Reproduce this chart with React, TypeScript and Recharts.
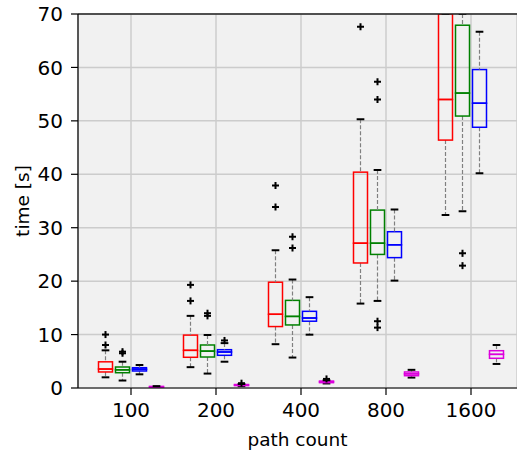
import React from 'react';
import {
  ComposedChart,
  Bar,
  Scatter,
  XAxis,
  YAxis,
  CartesianGrid,
  ReferenceLine,
} from 'recharts';

const categories = ['100', '200', '400', '800', '1600'];
const yTicks = [0, 10, 20, 30, 40, 50, 60, 70];

// per category: lower whisker, q1, median, q3, upper whisker, outliers
const redLow = [2.0, 3.9, 8.2, 15.8, 32.4];
const redQ1 = [3.0, 5.75, 11.5, 23.4, 46.4];
const redMed = [3.55, 7.05, 13.8, 27.1, 54.0];
const redQ3 = [4.9, 9.9, 19.8, 40.4, 76.0];
const redHigh = [7.05, 13.5, 25.8, 50.3, 88.0];
const redOut = [[8.05, 10.0], [16.3, 19.3], [33.9, 37.9], [67.6], []];

const greenLow = [1.4, 2.7, 5.7, 16.3, 33.1];
const greenQ1 = [2.86, 5.8, 11.8, 25.0, 50.9];
const greenMed = [3.4, 6.9, 13.4, 27.1, 55.2];
const greenQ3 = [3.93, 8.05, 16.4, 33.3, 67.9];
const greenHigh = [4.92, 9.92, 20.3, 40.8, 78.0];
const greenOut = [[6.5, 6.8], [13.5, 14.0], [26.2, 28.3], [11.3, 12.5, 54.0, 57.3], [22.9, 25.2]];

const blueLow = [2.56, 4.92, 9.98, 20.1, 40.2];
const blueQ1 = [3.18, 6.12, 12.5, 24.4, 48.8];
const blueMed = [3.5, 6.74, 13.1, 26.8, 53.3];
const blueQ3 = [3.8, 7.17, 14.35, 29.25, 59.6];
const blueHigh = [4.3, 8.4, 17.0, 33.4, 66.7];
const blueOut = [[], [8.9], [], [], []];

const magentaLow = [0.1, 0.35, 0.85, 1.95, 4.5];
const magentaQ1 = [0.15, 0.45, 1.0, 2.3, 5.56];
const magentaMed = [0.2, 0.55, 1.15, 2.65, 6.3];
const magentaQ3 = [0.3, 0.65, 1.3, 3.0, 6.98];
const magentaHigh = [0.35, 0.75, 1.45, 3.4, 8.05];
const magentaOut = [[], [0.9], [1.7], [], []];

const series = [
  { key: 'r', color: '#ff0000', low: redLow, q1: redQ1, med: redMed, q3: redQ3, high: redHigh, out: redOut },
  { key: 'g', color: '#008000', low: greenLow, q1: greenQ1, med: greenMed, q3: greenQ3, high: greenHigh, out: greenOut },
  { key: 'b', color: '#0000ff', low: blueLow, q1: blueQ1, med: blueMed, q3: blueQ3, high: blueHigh, out: blueOut },
  { key: 'm', color: '#dd00dd', low: magentaLow, q1: magentaQ1, med: magentaMed, q3: magentaQ3, high: magentaHigh, out: magentaOut },
];

const WIDTH = 517;
const HEIGHT = 452;
const Y_AXIS_W = 78;
const PAD_L = 10.5;
const PAD_R = 3.5;
const BAR = 14;
const GAP = 3;
const band = (WIDTH - Y_AXIS_W - PAD_L - PAD_R) / categories.length;

const rows = categories.map((cat, i) => {
  const row: any = { cat };
  series.forEach((s) => {
    row[s.key + 'Base'] = s.low[i];
    row[s.key + 'Lw'] = s.q1[i] - s.low[i];
    row[s.key + 'B1'] = s.med[i] - s.q1[i];
    row[s.key + 'B2'] = s.q3[i] - s.med[i];
    row[s.key + 'Uw'] = s.high[i] - s.q3[i];
  });
  return row;
});

const outliers = series.flatMap((s, si) =>
  s.out.flatMap((vals, i) =>
    vals.map((v) => ({ x: i + ((BAR + GAP) * (si - 1.5)) / band, y: v }))
  )
);

const font = 'DejaVu Sans';

const Empty = () => <g />;

const LowerWhisker = (props: any) => {
  const { x, y, width, height } = props;
  const cx = x + width / 2;
  const cap = width * 0.55;
  return (
    <g>
      <line x1={cx} x2={cx} y1={y} y2={y + height} stroke="#808080" strokeWidth={1.2} strokeDasharray="4 2" />
      <line x1={cx - cap / 2} x2={cx + cap / 2} y1={y + height} y2={y + height} stroke="#000" strokeWidth={2} />
    </g>
  );
};

const UpperWhisker = (props: any) => {
  const { x, y, width, height } = props;
  const cx = x + width / 2;
  const cap = width * 0.55;
  return (
    <g>
      <line x1={cx} x2={cx} y1={y} y2={y + height} stroke="#808080" strokeWidth={1.2} strokeDasharray="4 2" />
      <line x1={cx - cap / 2} x2={cx + cap / 2} y1={y} y2={y} stroke="#000" strokeWidth={2} />
    </g>
  );
};

const boxShape = (color: string) => (props: any) => {
  const { x, y, width, height } = props;
  return <rect x={x} y={y} width={width} height={height} fill="none" stroke={color} strokeWidth={1.5} />;
};

const Plus = (props: any) => {
  const { cx, cy } = props;
  const r = 3.5;
  return (
    <g>
      <line x1={cx - r} x2={cx + r} y1={cy} y2={cy} stroke="#000" strokeWidth={2} />
      <line x1={cx} x2={cx} y1={cy - r} y2={cy + r} stroke="#000" strokeWidth={2} />
    </g>
  );
};

export default function App() {
  return (
    <div style={{ position: 'absolute', left: 0, top: 0, width: WIDTH, height: HEIGHT, fontFamily: font, background: '#fff' }}>
      <ComposedChart
        width={WIDTH}
        height={HEIGHT}
        data={rows}
        margin={{ top: 14, right: 0, bottom: 0, left: 0 }}
        barSize={BAR}
        barGap={GAP}
      >
        <CartesianGrid stroke="#cccccc" strokeWidth={1.5} fill="#f1f1f1" />
        <XAxis
          dataKey="cat"
          height={HEIGHT - 14 - 374}
          padding={{ left: PAD_L, right: PAD_R }}
          tick={{ fontSize: 20, fill: '#000' }}
          tickSize={7}
          tickMargin={8}
          axisLine={{ stroke: '#000', strokeWidth: 1.2 }}
          tickLine={{ stroke: '#000', strokeWidth: 1.2 }}
          label={{ value: 'path count', position: 'insideBottom', offset: 6, style: { fontSize: 18.5, fill: '#000' } }}
        />
        <XAxis
          xAxisId="num"
          type="number"
          dataKey="x"
          domain={[-0.5, categories.length - 0.5]}
          padding={{ left: PAD_L, right: PAD_R }}
          hide
        />
        <YAxis
          width={Y_AXIS_W}
          domain={[0, 70]}
          ticks={yTicks}
          allowDataOverflow
          tick={{ fontSize: 20, fill: '#000' }}
          tickSize={7}
          tickMargin={8}
          axisLine={{ stroke: '#000', strokeWidth: 1.2 }}
          tickLine={{ stroke: '#000', strokeWidth: 1.2 }}
          label={{ value: 'time [s]', angle: -90, position: 'insideLeft', offset: 22, style: { textAnchor: 'middle', fontSize: 18.5, fill: '#000' } }}
        />
        {series.flatMap((s) => [
          <Bar key={s.key + 'Base'} dataKey={s.key + 'Base'} stackId={s.key} shape={Empty} isAnimationActive={false} />,
          <Bar key={s.key + 'Lw'} dataKey={s.key + 'Lw'} stackId={s.key} shape={LowerWhisker} isAnimationActive={false} />,
          <Bar key={s.key + 'B1'} dataKey={s.key + 'B1'} stackId={s.key} shape={boxShape(s.color)} isAnimationActive={false} />,
          <Bar key={s.key + 'B2'} dataKey={s.key + 'B2'} stackId={s.key} shape={boxShape(s.color)} isAnimationActive={false} />,
          <Bar key={s.key + 'Uw'} dataKey={s.key + 'Uw'} stackId={s.key} shape={UpperWhisker} isAnimationActive={false} />,
        ])}
        <Scatter xAxisId="num" data={outliers} dataKey="y" shape={Plus} isAnimationActive={false} />
        <ReferenceLine y={70} stroke="#222" strokeWidth={1.6} />
      </ComposedChart>
    </div>
  );
}
